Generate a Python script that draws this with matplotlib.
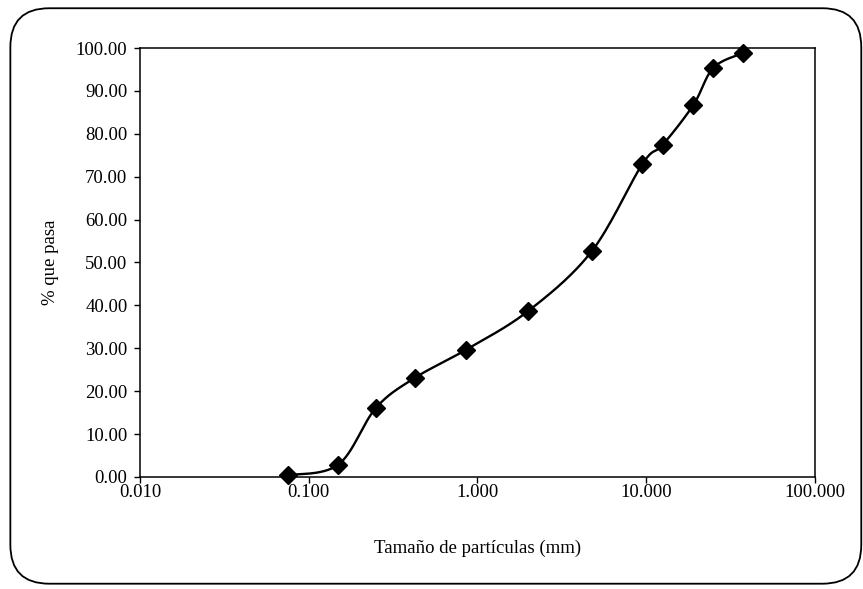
import numpy as np
import matplotlib.pyplot as plt
from matplotlib.patches import FancyBboxPatch
from matplotlib.ticker import FixedLocator, FuncFormatter

# sieve sizes (mm) and percent passing
sieve_mm = [0.075, 0.15, 0.25, 0.425, 0.85, 2.0, 4.75, 9.5, 12.5, 19.0, 25.0, 37.5]
pct_passing = [0.4, 2.9, 16.1, 23.1, 29.6, 38.7, 52.6, 73.0, 77.4, 86.7, 95.4, 98.8]

x_ticks = [0.01, 0.1, 1, 10, 100]
y_ticks = [0, 10, 20, 30, 40, 50, 60, 70, 80, 90, 100]

plt.rcParams["font.family"] = ["Liberation Serif", "DejaVu Serif"]


def smooth_curve(xs, ys, n=30):
    # Excel-like smoothed line: Catmull-Rom bezier in log-x space
    u = np.log10(np.asarray(xs, float))
    v = np.asarray(ys, float)
    pts = np.column_stack([u, v])
    out = []
    for i in range(len(pts) - 1):
        p0 = pts[i - 1] if i > 0 else pts[i]
        p1 = pts[i]
        p2 = pts[i + 1]
        p3 = pts[i + 2] if i + 2 < len(pts) else pts[i + 1]
        c1 = p1 + (p2 - p0) / 6
        c2 = p2 - (p3 - p1) / 6
        t = np.linspace(0, 1, n)[:, None]
        seg = ((1 - t) ** 3) * p1 + 3 * ((1 - t) ** 2) * t * c1 + 3 * (1 - t) * t ** 2 * c2 + t ** 3 * p2
        out.append(seg)
    curve = np.vstack(out)
    return 10 ** curve[:, 0], curve[:, 1]


fig = plt.figure(figsize=(8.63, 5.89), dpi=100)
ax = fig.add_axes([0.1622, 0.1902, 0.7822, 0.7283])

# rounded frame around the chart
frame = FancyBboxPatch((0.012, 0.009), 0.986, 0.977, boxstyle="round,pad=0,rounding_size=0.045",
                       transform=fig.transFigure, fill=False, edgecolor="black", linewidth=1.3,
                       mutation_aspect=863 / 589)
fig.patches.append(frame)

cx, cy = smooth_curve(sieve_mm, pct_passing)
ax.plot(cx, cy, color="black", linewidth=1.7, clip_on=False)
ax.plot(sieve_mm, pct_passing, linestyle="none", marker="D", markersize=9,
        color="black", clip_on=False, zorder=3)

ax.set_xscale("log")
ax.set_xlim(0.01, 100)
ax.set_ylim(0, 100)
ax.xaxis.set_major_locator(FixedLocator(x_ticks))
ax.xaxis.set_minor_locator(FixedLocator([]))
ax.xaxis.set_major_formatter(FuncFormatter(lambda v, p: f"{v:.3f}"))
ax.set_yticks(y_ticks)
ax.yaxis.set_major_formatter(FuncFormatter(lambda v, p: f"{v:.2f}"))

ax.tick_params(direction="out", length=4, width=1, labelsize=13.5, pad=5)
ax.tick_params(axis="x", pad=1)
for s in ax.spines.values():
    s.set_linewidth(1.1)

ax.set_xlabel("Tamaño de partículas (mm)", fontsize=13.5, labelpad=28)
ax.set_ylabel("% que pasa", fontsize=13.5, labelpad=12)

fig.savefig("out.png", dpi=100)
